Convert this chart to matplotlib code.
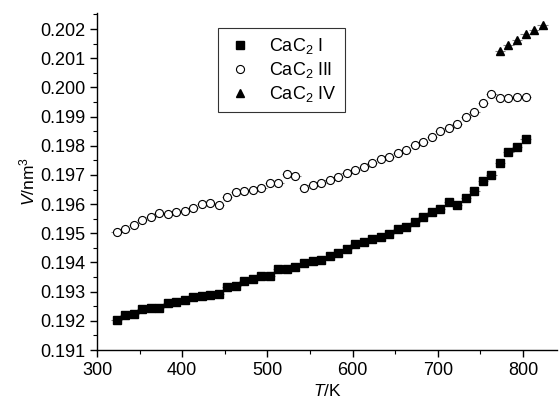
import matplotlib
matplotlib.use('Agg')
import matplotlib.pyplot as plt
from matplotlib.lines import Line2D
from matplotlib.ticker import MultipleLocator
import numpy as np

plt.rcParams['font.family'] = ['Liberation Sans', 'DejaVu Sans']
plt.rcParams['mathtext.fontset'] = 'custom'
plt.rcParams['mathtext.rm'] = 'Liberation Sans'
plt.rcParams['mathtext.it'] = 'Liberation Sans:italic'

# temperatures (K)
T_main = [323, 333, 343, 353, 363, 373, 383, 393, 403, 413, 423, 433, 443,
          453, 463, 473, 483, 493, 503, 513, 523, 533, 543, 553, 563, 573,
          583, 593, 603, 613, 623, 633, 643, 653, 663, 673, 683, 693, 703,
          713, 723, 733, 743, 753, 763, 773, 783, 793, 803]
T_iv = [773, 783, 793, 803, 813, 823]

# cell volumes (nm^3)
V_i = [0.19203, 0.19220, 0.19222, 0.19239, 0.19243, 0.19245, 0.19262, 0.19263,
       0.19271, 0.19283, 0.19286, 0.19288, 0.19291, 0.19315, 0.19320, 0.19336,
       0.19343, 0.19355, 0.19355, 0.19377, 0.19376, 0.19385, 0.19397, 0.19406,
       0.19410, 0.19422, 0.19433, 0.19445, 0.19462, 0.19471, 0.19479, 0.19488,
       0.19498, 0.19514, 0.19523, 0.19540, 0.19555, 0.19572, 0.19583, 0.19607,
       0.19597, 0.19622, 0.19646, 0.19679, 0.19700, 0.19742, 0.19780, 0.19797,
       0.19822]
V_iii = [0.19505, 0.19514, 0.19528, 0.19545, 0.19555, 0.19568, 0.19565, 0.19573,
         0.19577, 0.19585, 0.19601, 0.19604, 0.19598, 0.19625, 0.19642, 0.19645,
         0.19650, 0.19656, 0.19671, 0.19673, 0.19702, 0.19698, 0.19654, 0.19665,
         0.19673, 0.19683, 0.19694, 0.19705, 0.19717, 0.19728, 0.19740, 0.19753,
         0.19762, 0.19774, 0.19785, 0.19803, 0.19814, 0.19831, 0.19850, 0.19860,
         0.19873, 0.19899, 0.19917, 0.19945, 0.19977, 0.19965, 0.19965, 0.19968,
         0.19968]
V_iv = [0.20126, 0.20145, 0.20162, 0.20183, 0.20197, 0.20214]

labels = [r'CaC$_2$ I', r'CaC$_2$ III', r'CaC$_2$ IV']
T_ERR = 6

fig = plt.figure(figsize=(5.59, 3.98), dpi=100)
ax = fig.add_axes([0.1735, 0.1206, 0.823, 0.8467])

eb_kw = dict(ecolor='0.5', elinewidth=0.8, capsize=0, linestyle='none')
ax.errorbar(T_main, V_i, xerr=T_ERR, fmt='s', ms=5.8, mfc='black', mec='black', **eb_kw)
ax.errorbar(T_main, V_iii, xerr=T_ERR, fmt='o', ms=5.8, mfc='white', mec='black',
            mew=0.8, **eb_kw)
ax.errorbar(T_iv, V_iv, xerr=T_ERR, fmt='^', ms=6, mfc='black', mec='black', **eb_kw)

ax.set_xlim(300, 840)
ax.set_ylim(0.191, 0.20255)
ax.xaxis.set_major_locator(MultipleLocator(100))
ax.xaxis.set_minor_locator(MultipleLocator(50))
ax.yaxis.set_major_locator(MultipleLocator(0.001))
ax.yaxis.set_minor_locator(MultipleLocator(0.0005))
ax.yaxis.set_major_formatter(matplotlib.ticker.FormatStrFormatter('%.3f'))

for side in ('top', 'right'):
    ax.spines[side].set_visible(False)
for side in ('left', 'bottom'):
    ax.spines[side].set_linewidth(1.0)
ax.tick_params(which='major', direction='out', length=5, width=1.0, labelsize=13)
ax.tick_params(which='minor', direction='out', length=3, width=0.8)

ax.set_xlabel(r'$T$/K', fontsize=12.5, labelpad=3)
ax.set_ylabel(r'$V$/nm$^3$', fontsize=12.5, labelpad=2)

handles = [
    Line2D([], [], marker='s', ms=5.8, color='black', linestyle='none'),
    Line2D([], [], marker='o', ms=5.8, mfc='white', mec='black', mew=0.8, linestyle='none'),
    Line2D([], [], marker='^', ms=6, color='black', linestyle='none'),
]
leg = ax.legend(handles, labels, loc='upper left', bbox_to_anchor=(0.263, 0.955),
                fontsize=13, frameon=True, fancybox=False, edgecolor='black',
                handlelength=1.5, handletextpad=0.9, labelspacing=0.22,
                borderpad=0.45, borderaxespad=0)
leg.get_frame().set_linewidth(0.8)

plt.savefig('out.png', dpi=100)
plt.close()
